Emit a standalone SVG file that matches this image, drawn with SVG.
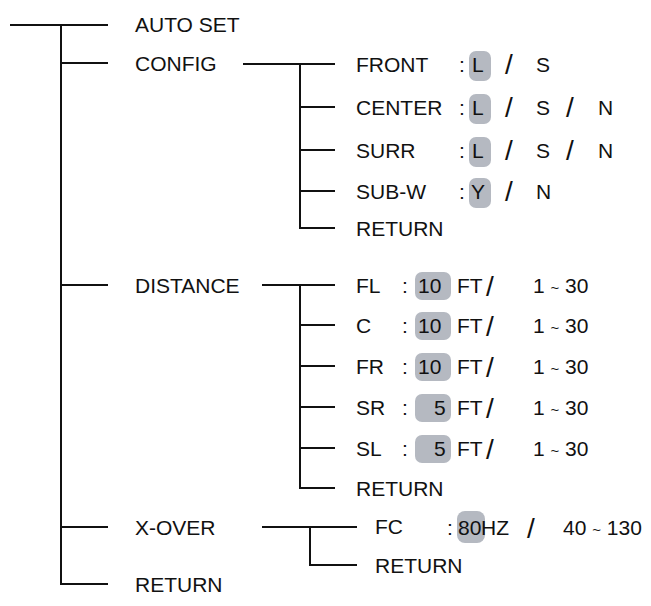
<svg xmlns="http://www.w3.org/2000/svg" width="651" height="606" viewBox="0 0 651 606">
<style>
line{stroke:#111;stroke-width:2}
text{font-family:"Liberation Sans",Arial,sans-serif;font-size:21px;fill:#111}
.b{fill:#b5b9c1}
.s{font-size:28px;font-weight:300}
.t{font-size:15px}
</style>
<rect width="651" height="606" fill="#fff"/>
<g id="connectors">
<line x1="10" y1="25" x2="108" y2="25"/>
<line x1="61" y1="24" x2="61" y2="585"/>
<line x1="61" y1="63" x2="108" y2="63"/>
<line x1="61" y1="285" x2="108" y2="285"/>
<line x1="61" y1="527" x2="108" y2="527"/>
<line x1="61" y1="584" x2="108" y2="584"/>
<line x1="243" y1="64" x2="335" y2="64"/>
<line x1="300" y1="63" x2="300" y2="229"/>
<line x1="300" y1="107" x2="335" y2="107"/>
<line x1="300" y1="150" x2="335" y2="150"/>
<line x1="300" y1="191" x2="335" y2="191"/>
<line x1="300" y1="228" x2="335" y2="228"/>
<line x1="262" y1="285" x2="335" y2="285"/>
<line x1="300" y1="284" x2="300" y2="489"/>
<line x1="300" y1="325" x2="335" y2="325"/>
<line x1="300" y1="366" x2="335" y2="366"/>
<line x1="300" y1="407" x2="335" y2="407"/>
<line x1="300" y1="448" x2="335" y2="448"/>
<line x1="300" y1="488" x2="335" y2="488"/>
<line x1="262" y1="527" x2="357" y2="527"/>
<line x1="310" y1="526" x2="310" y2="566"/>
<line x1="310" y1="565" x2="357" y2="565"/>
</g>
<g id="main">
<text x="135" y="32">AUTO SET</text>
<text x="135" y="71">CONFIG</text>
<text x="135" y="293">DISTANCE</text>
<text x="135" y="535">X-OVER</text>
<text x="135" y="592">RETURN</text>
</g>
<g id="config">
<rect class="b" x="469" y="51" width="22" height="30" rx="7"/>
<text x="356" y="72">FRONT</text><text x="459" y="72">:</text><text x="472" y="72">L</text><text x="505" y="74" class="s">/</text><text x="536" y="72">S</text>
<rect class="b" x="469" y="94" width="22" height="30" rx="7"/>
<text x="356" y="115">CENTER</text><text x="459" y="115">:</text><text x="472" y="115">L</text><text x="505" y="117" class="s">/</text><text x="536" y="115">S</text><text x="566" y="117" class="s">/</text><text x="598" y="115">N</text>
<rect class="b" x="469" y="137" width="22" height="30" rx="7"/>
<text x="356" y="158">SURR</text><text x="459" y="158">:</text><text x="472" y="158">L</text><text x="505" y="160" class="s">/</text><text x="536" y="158">S</text><text x="566" y="160" class="s">/</text><text x="598" y="158">N</text>
<rect class="b" x="469" y="178" width="22" height="30" rx="7"/>
<text x="356" y="199">SUB-W</text><text x="459" y="199">:</text><text x="471" y="199">Y</text><text x="505" y="201" class="s">/</text><text x="536" y="199">N</text>
<text x="356" y="236">RETURN</text>
</g>
<g id="distance">
<rect class="b" x="415" y="272" width="36" height="28" rx="7"/>
<text x="356" y="293">FL</text><text x="402" y="293">:</text><text x="418" y="293">10</text><text x="457" y="293">FT</text><text x="486" y="296" class="s">/</text><text x="533" y="293">1 <tspan class="t">~</tspan> 30</text>
<rect class="b" x="415" y="312" width="36" height="28" rx="7"/>
<text x="356" y="333">C</text><text x="402" y="333">:</text><text x="418" y="333">10</text><text x="457" y="333">FT</text><text x="486" y="336" class="s">/</text><text x="533" y="333">1 <tspan class="t">~</tspan> 30</text>
<rect class="b" x="415" y="353" width="36" height="28" rx="7"/>
<text x="356" y="374">FR</text><text x="402" y="374">:</text><text x="418" y="374">10</text><text x="457" y="374">FT</text><text x="486" y="377" class="s">/</text><text x="533" y="374">1 <tspan class="t">~</tspan> 30</text>
<rect class="b" x="415" y="394" width="36" height="28" rx="7"/>
<text x="356" y="415">SR</text><text x="402" y="415">:</text><text x="434" y="415">5</text><text x="457" y="415">FT</text><text x="486" y="418" class="s">/</text><text x="533" y="415">1 <tspan class="t">~</tspan> 30</text>
<rect class="b" x="415" y="435" width="36" height="28" rx="7"/>
<text x="356" y="456">SL</text><text x="402" y="456">:</text><text x="434" y="456">5</text><text x="457" y="456">FT</text><text x="486" y="459" class="s">/</text><text x="533" y="456">1 <tspan class="t">~</tspan> 30</text>
<text x="356" y="496">RETURN</text>
</g>
<g id="xover">
<rect class="b" x="457" y="511" width="28" height="32" rx="8"/>
<text x="375" y="534">FC</text><text x="447" y="535">:</text><text x="458" y="535">80</text><text x="481" y="535">HZ</text><text x="527" y="538" class="s">/</text><text x="563" y="535">40 <tspan class="t">~</tspan> 130</text>
<text x="375" y="573">RETURN</text>
</g>
</svg>
